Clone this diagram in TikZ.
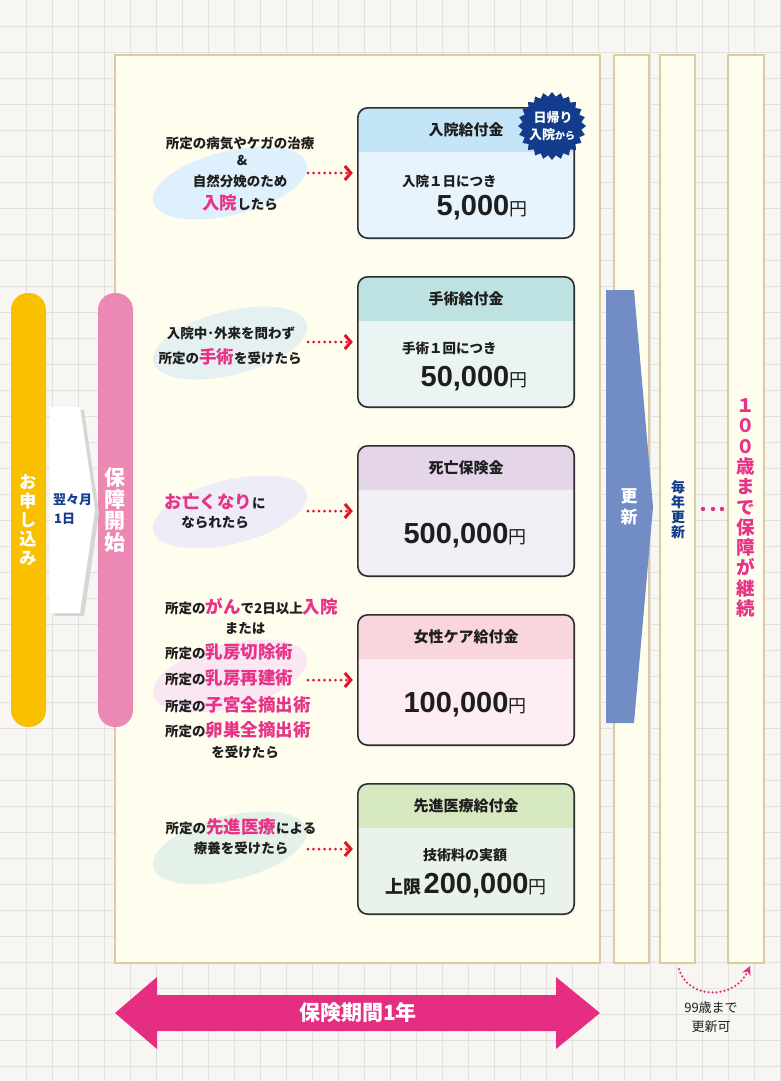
\documentclass[tikz,border=0pt]{standalone}
\usepackage{fontspec}
\setmainfont{Noto Sans CJK JP}
\newfontfamily\numf{Liberation Sans}
\usetikzlibrary{arrows.meta,shapes.geometric}
\definecolor{bggrid}{RGB}{247,246,243}
\definecolor{gridln}{RGB}{226,225,221}
\definecolor{cream}{RGB}{255,253,238}
\definecolor{tanb}{RGB}{220,203,162}
\definecolor{ink}{RGB}{30,30,30}
\definecolor{hl}{RGB}{230,50,135}
\definecolor{navy}{RGB}{20,60,140}
\definecolor{arrred}{RGB}{222,18,40}
\definecolor{yel}{RGB}{249,192,0}
\definecolor{pinkbar}{RGB}{236,136,180}
\definecolor{bluearr}{RGB}{114,140,198}
\definecolor{bigpink}{RGB}{229,46,130}
\definecolor{shadowg}{RGB}{214,214,212}
\definecolor{boxline}{RGB}{45,45,45}
\definecolor{hA}{RGB}{196,228,248}\definecolor{bA}{RGB}{232,244,253}
\definecolor{hB}{RGB}{190,226,226}\definecolor{bB}{RGB}{234,244,243}
\definecolor{hC}{RGB}{228,214,232}\definecolor{bC}{RGB}{241,238,246}
\definecolor{hD}{RGB}{248,214,220}\definecolor{bD}{RGB}{253,236,243}
\definecolor{hE}{RGB}{214,232,192}\definecolor{bE}{RGB}{233,243,233}
\definecolor{eA}{RGB}{222,240,252}
\definecolor{eB}{RGB}{229,241,241}
\definecolor{eC}{RGB}{238,236,247}
\definecolor{eD}{RGB}{251,231,242}
\definecolor{eE}{RGB}{227,241,232}
\newcommand\setfs[1]{\fontsize{#1}{#1}\selectfont}
\newcommand\pk[1]{{\color{hl}\setfs{17.5}#1}}
\newcommand\yen[1]{{\numf\bfseries\setfs{29}#1}{\setfs{18}円}}
\tikzset{
  panel/.style={fill=cream, draw=tanb, line width=2.2pt},
  lbl/.style={inner sep=0pt, text=ink, font=\bfseries\setfs{13.5}},
  hdrtext/.style={inner sep=0pt, text=ink, font=\bfseries\setfs{15}},
  valtext/.style={inner sep=0pt, text=ink, anchor=base},
  boxbody/.style={inner sep=0pt, minimum width=216pt, minimum height=130pt},
  boxframe/.style={draw=boxline, line width=1.6pt, rounded corners=10pt},
  redarrow/.style={draw=arrred, line width=3pt, dash pattern=on 0pt off 5.5pt, line cap=round,
     -{Straight Barb[length=6pt,width=14pt,line width=3pt]}, shorten >=5pt},
  pinkdots/.style={draw=bigpink, line width=2.5pt, dash pattern=on 0pt off 4pt, line cap=round,
     -{Stealth[length=9pt,width=9pt]}},
  vtext/.style={inner sep=0pt, align=center},
}
\newcommand\benefitbox[5]{%
  \node[boxbody, fill=#4] (#1) at (466,#2+65) {};
  \begin{scope}
    \clip[rounded corners=10pt] (358,#2) rectangle (574,#2+130);
    \fill[#3] (358,#2) rectangle (574,#2+44);
  \end{scope}
  \draw[boxframe] (#1.north west) rectangle (#1.south east);
  \node[hdrtext] (#1h) at (466,#2+22) {#5};
}
\begin{document}
\begin{tikzpicture}[x=1pt,y=-1pt]
\useasboundingbox (0,0) rectangle (780,1081);
\fill[bggrid] (0,0) rectangle (780,1081);
\foreach \i in {1,...,30} \draw[gridln, line width=0.8pt] (26*\i,0) -- (26*\i,1081);
\foreach \j in {1,...,41} \draw[gridln, line width=0.8pt] (0,26*\j) -- (780,26*\j);

% panels
\draw[panel] (115,55) rectangle (600,963);
\draw[panel] (614,55) rectangle (649,963);
\draw[panel] (660,55) rectangle (695,963);
\draw[panel] (728,55) rectangle (764,963);

% left bars
\node[fill=yel, rounded corners=17pt, minimum width=35pt, minimum height=434pt, inner sep=0pt] (apply) at (28.5,510) {};
\node[fill=pinkbar, rounded corners=17pt, minimum width=35pt, minimum height=434pt, inner sep=0pt] (start) at (115.5,510) {};
\fill[shadowg] (54,410) -- (84,410) -- (99,513) -- (84,616) -- (54,616) -- cycle;
\fill[white] (50,407) -- (80,407) -- (95,510) -- (80,613) -- (50,613) -- cycle;
\node[vtext, text=white, font=\bfseries\fontsize{17}{19}\selectfont] (applyt) at (28,520) {お\\申\\し\\込\\み};
\node[vtext, text=white, font=\bfseries\fontsize{21}{21.5}\selectfont] (startt) at (115,510) {保\\障\\開\\始};
\node[inner sep=0pt, anchor=west, text=navy, font=\bfseries\setfs{13}] (nm1) at (53,500) {翌々月};
\node[inner sep=0pt, anchor=west, text=navy, font=\bfseries\setfs{13}] (nm2) at (54,519) {1日};

% renewal arrow
\fill[bluearr] (606,290) -- (634,290) -- (653,507) -- (634,723) -- (606,723) -- cycle;
\node[vtext, text=white, font=\bfseries\fontsize{17}{21}\selectfont] (renew) at (629,507) {更\\新};
\node[vtext, text=navy, font=\bfseries\fontsize{14}{15}\selectfont] (yearly) at (678,510) {毎\\年\\更\\新};
\foreach \x in {703,713,722} \fill[bigpink] (\x,509) circle (2.2pt);
\node[vtext, text=hl, font=\bfseries\fontsize{18.5}{20.3}\selectfont] (hundred) at (746,508) {１\\０\\０\\歳\\ま\\で\\保\\障\\が\\継\\続};

% ellipses
\foreach \y/\c in {183/eA,343/eB,512/eC,676/eD,848/eE}
  \fill[\c, rotate around={14:(230,\y)}] (230,\y) ellipse [x radius=79pt, y radius=32pt];

% left texts
\node[lbl] (t1a) at (240,143) {所定の病気やケガの治療};
\node[lbl] (t1b) at (242,160) {\&};
\node[lbl] (t1c) at (240,181) {自然分娩のため};
\node[lbl] (t1d) at (240,203) {\pk{入院}したら};
\node[lbl] (t2a) at (231,333) {入院中･外来を問わず};
\node[lbl] (t2b) at (230,357) {所定の\pk{手術}を受けたら};
\node[lbl] (t3a) at (215,502) {\pk{お亡くなり}に};
\node[lbl] (t3b) at (215,523) {なられたら};
\node[lbl, anchor=west] (t4a) at (165,607) {所定の\pk{がん}で2日以上\pk{入院}};
\node[lbl] (t4b) at (245,628) {または};
\node[lbl, anchor=west] (t4c) at (165,652) {所定の\pk{乳房切除術}};
\node[lbl, anchor=west] (t4d) at (165,678) {所定の\pk{乳房再建術}};
\node[lbl, anchor=west] (t4e) at (165,705) {所定の\pk{子宮全摘出術}};
\node[lbl, anchor=west] (t4f) at (165,730) {所定の\pk{卵巣全摘出術}};
\node[lbl] (t4g) at (245,752) {を受けたら};
\node[lbl] (t5a) at (241,827) {所定の\pk{先進医療}による};
\node[lbl] (t5b) at (241,848) {療養を受けたら};

% boxes
\benefitbox{bx1}{108}{hA}{bA}{入院給付金}
\benefitbox{bx2}{277}{hB}{bB}{手術給付金}
\benefitbox{bx3}{446}{hC}{bC}{死亡保険金}
\benefitbox{bx4}{615}{hD}{bD}{女性ケア給付金}
\benefitbox{bx5}{784}{hE}{bE}{先進医療給付金}

\node[lbl, anchor=west] (v1a) at (402,181) {入院１日につき};
\node[valtext] (v1b) at (482,215) {\yen{5,000}};
\node[lbl, anchor=west] (v2a) at (402,348) {手術１回につき};
\node[valtext] (v2b) at (474,386) {\yen{50,000}};
\node[valtext] (v3b) at (465,543) {\yen{500,000}};
\node[valtext] (v4b) at (465,712) {\yen{100,000}};
\node[lbl, font=\bfseries\setfs{14}] (v5a) at (465,855) {技術料の実額};
\node[valtext] (v5b) at (466,893) {{\bfseries\setfs{18}上限} \yen{200,000}};

% badge
\node[star, star points=24, star point ratio=1.15, minimum size=68pt, fill=navy, inner sep=0pt] (badge) at (552,126) {};
\node[inner sep=0pt, text=white, font=\bfseries\setfs{13}] (bd1) at (553,118) {日帰り};
\node[inner sep=0pt, text=white, font=\bfseries\setfs{13}] (bd2) at (552,135) {入院{\setfs{10}から}};

% red arrows
\coordinate (s1) at (308,173);
\coordinate (s2) at (308,342);
\coordinate (s3) at (308,511);
\coordinate (s4) at (308,680);
\coordinate (s5) at (308,849);
\draw[redarrow] (s1) -- (bx1.west);
\draw[redarrow] (s2) -- (bx2.west);
\draw[redarrow] (s3) -- (bx3.west);
\draw[redarrow] (s4) -- (bx4.west);
\draw[redarrow] (s5) -- (bx5.west);

% bottom period arrow
\fill[bigpink] (115,1013) -- (157,977) -- (157,995) -- (556,995) -- (556,977) -- (600,1013)
  -- (556,1049) -- (556,1031) -- (157,1031) -- (157,1049) -- cycle;
\node[inner sep=0pt, text=white, font=\bfseries\setfs{21}] (period) at (358,1013) {保険期間1年};

% renewal curve
\coordinate (cs) at (679,969);
\coordinate (ce) at (750,966);
\draw[pinkdots] (cs) .. controls (688,1000) and (735,1000) .. (ce);
\node[inner sep=0pt, text=ink, font=\setfs{13}] (u1) at (711,1008) {99歳まで};
\node[inner sep=0pt, text=ink, font=\setfs{13}] (u2) at (711,1027) {更新可};
\end{tikzpicture}
\end{document}
